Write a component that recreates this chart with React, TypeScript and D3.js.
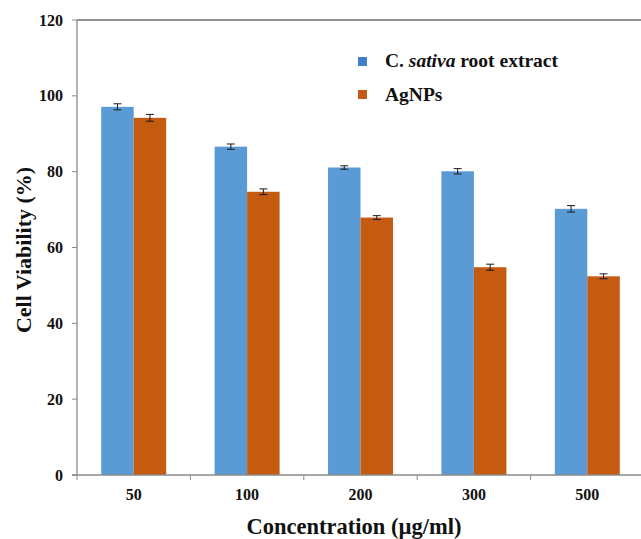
import React from "react";
import * as d3 from "d3";

const categories = ["50", "100", "200", "300", "500"];
const seriesNames = ["C. sativa root extract", "AgNPs"];
const extractValues = [97.1, 86.6, 81.1, 80.1, 70.2];
const extractErrors = [0.8, 0.7, 0.45, 0.7, 0.85];
const agnpValues = [94.2, 74.7, 67.9, 54.8, 52.4];
const agnpErrors = [0.9, 0.75, 0.5, 0.8, 0.65];
const yTicks = [0, 20, 40, 60, 80, 100, 120];

const W = 641;
const H = 539;
const left = 77;
const right = 644;
const top = 20;
const bottom = 475;
const FONT = "'Liberation Serif', 'Times New Roman', serif";
const colors = ["#5B9BD5", "#C55A11"];
const legendColors = ["#3F80C8", "#C4591A"];

export default function App() {
  const y = d3.scaleLinear().domain([0, 120]).range([bottom, top]);
  const x0 = d3
    .scaleBand<string>()
    .domain(categories)
    .range([left, right])
    .paddingInner(0.427)
    .paddingOuter(0.2135);
  const x1 = d3
    .scaleBand<string>()
    .domain(seriesNames)
    .range([0, x0.bandwidth()]);
  const step = x0.step();
  const series = [
    { name: seriesNames[0], values: extractValues, errors: extractErrors },
    { name: seriesNames[1], values: agnpValues, errors: agnpErrors },
  ];
  const boundaries = categories.map((c) => (x0(c) as number) - (step * x0.paddingInner()) / 2);
  boundaries.push(boundaries[boundaries.length - 1] + step);

  return (
    <svg
      width={W}
      height={H}
      style={{ position: "absolute", left: 0, top: 0, background: "#fff" }}
      fontFamily={FONT}
    >
      <rect x={0} y={0} width={W} height={H} fill="#fff" />
      {/* bars */}
      {series.map((s, si) =>
        categories.map((c, ci) => {
          const bx = (x0(c) as number) + (x1(s.name) as number);
          const v = s.values[ci];
          return (
            <rect
              key={`${si}-${ci}`}
              x={bx}
              y={y(v)}
              width={x1.bandwidth()}
              height={y(0) - y(v)}
              fill={colors[si]}
            />
          );
        })
      )}
      {/* error bars */}
      {series.map((s, si) =>
        categories.map((c, ci) => {
          const cx = (x0(c) as number) + (x1(s.name) as number) + x1.bandwidth() / 2;
          const v = s.values[ci];
          const e = s.errors[ci];
          const y1 = y(v + e);
          const y2 = y(v - e);
          return (
            <g key={`e${si}-${ci}`} stroke="#1a1a1a" strokeWidth={1}>
              <line x1={cx} x2={cx} y1={y1} y2={y2} />
              <line x1={cx - 4} x2={cx + 4} y1={y1} y2={y1} />
              <line x1={cx - 4} x2={cx + 4} y1={y2} y2={y2} />
            </g>
          );
        })
      )}
      {/* frame top */}
      <line x1={left} x2={right} y1={top} y2={top} stroke="#6e6e6e" strokeWidth={1.5} />
      {/* y axis */}
      <line x1={left} x2={left} y1={top} y2={bottom} stroke="#8a8a8a" strokeWidth={1.3} />
      {yTicks.map((t) => (
        <g key={`yt${t}`}>
          <line x1={left - 5} x2={left} y1={y(t)} y2={y(t)} stroke="#8a8a8a" strokeWidth={1} />
          <text
            x={63}
            y={y(t)}
            dy="0.35em"
            textAnchor="end"
            fontSize={16}
            fontWeight="bold"
            fill="#111"
          >
            {t}
          </text>
        </g>
      ))}
      {/* x axis */}
      <line x1={left - 5} x2={right} y1={bottom} y2={bottom} stroke="#8a8a8a" strokeWidth={1.3} />
      {boundaries.map((b, i) => (
        <line key={`xt${i}`} x1={b} x2={b} y1={bottom} y2={bottom + 5} stroke="#8a8a8a" strokeWidth={1} />
      ))}
      {categories.map((c) => (
        <text
          key={`xl${c}`}
          x={(x0(c) as number) + x0.bandwidth() / 2}
          y={500}
          textAnchor="middle"
          fontSize={16}
          fontWeight="bold"
          fill="#111"
        >
          {c}
        </text>
      ))}
      {/* axis titles */}
      <text
        transform="translate(31,250) rotate(-90)"
        textAnchor="middle"
        fontSize={22}
        fontWeight="bold"
        fill="#111"
      >
        Cell Viability (%)
      </text>
      <text x={354} y={534} textAnchor="middle" fontSize={22.5} fontWeight="bold" fill="#111">
        Concentration (µg/ml)
      </text>
      {/* legend */}
      <rect x={358} y={57} width={9} height={9} fill={legendColors[0]} />
      <text x={385} y={67} fontSize={19.5} fontWeight="bold" fill="#111">
        C. <tspan fontStyle="italic">sativa</tspan> root extract
      </text>
      <rect x={358} y={90} width={9} height={9} fill={legendColors[1]} />
      <text x={385} y={101} fontSize={19.5} fontWeight="bold" fill="#111">
        {seriesNames[1]}
      </text>
    </svg>
  );
}
